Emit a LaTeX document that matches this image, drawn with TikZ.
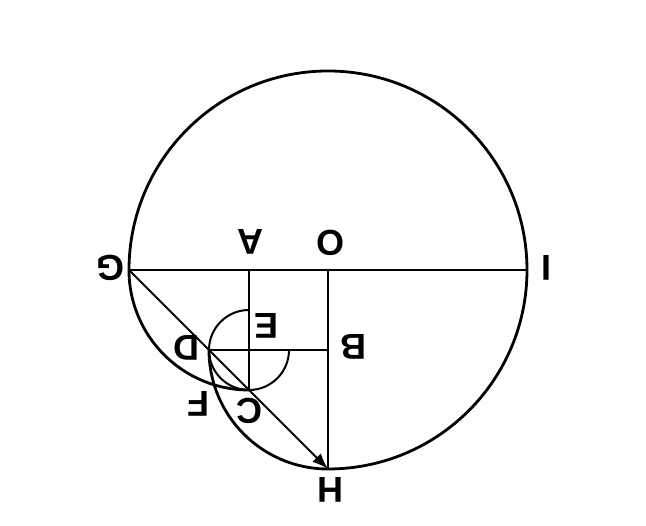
\documentclass[tikz,border=0pt]{standalone}
\usepackage{fontspec}
\setmainfont{Liberation Sans}
\usetikzlibrary{arrows.meta}
\usetikzlibrary{calc}

\begin{document}
\begin{tikzpicture}[x=1pt, y=1pt, line width=2.8pt,
    every node/.style={rotate=180, inner sep=0pt, font=\fontsize{36}{40}\selectfont\bfseries},
    thin line/.style={line width=2pt}]

        \useasboundingbox (0,0) rectangle (646,526);

        \def\R{199} % Radius of the big circle
        \def\r{40} % Radius of the small circle

        \coordinate (O) at (328, 256);
        \coordinate (G) at ($(O) + (-\R, 0)$);
        \coordinate (I) at ($(O) + (\R, 0)$);
        \coordinate (H) at ($(O) + (0, -\R)$);
        \coordinate (A) at (249, 256);
        \coordinate (B) at (328, 176);
        \coordinate (E) at (249, 176);
        \coordinate (D) at ($(E) + (-\r, 0)$);
        \coordinate (C) at ($(E) + (0, -\r)$);
        \coordinate (T) at ($(E) + (0, \r)$);

        \node (lG) at (110, 258) {G};
        \node (lA) at (250, 284) {A};
        \node (lO) at (330, 283) {O};
        \node (lI) at (546, 258) {I};
        \node (lE) at (266, 200) {E};
        \node (lD) at (186, 178) {D};
        \node (lB) at (353, 179) {B};
        \node (lF) at (199, 122) {F};
        \node (lC) at (249, 115) {C};
        \node (lH) at (330, 36) {H};

        \draw (G) -- (I);
        \draw[thin line] (A) -- (C);
        \draw[thin line] (O) -- (H);
        \draw[thin line] (D) -- (B);
        \draw[thin line, -{Latex[length=16pt, width=12pt]}] (G) -- (H);

        \draw (H) arc[start angle=-90, end angle=180, radius=\R];
        \draw (G) arc[start angle=180, end angle=270, radius=120];
        \draw (D) arc[start angle=180, end angle=270, radius=119];
        \draw[thin line] (T) arc[start angle=90, end angle=360, radius=\r];

      \end{tikzpicture}
\end{document}
